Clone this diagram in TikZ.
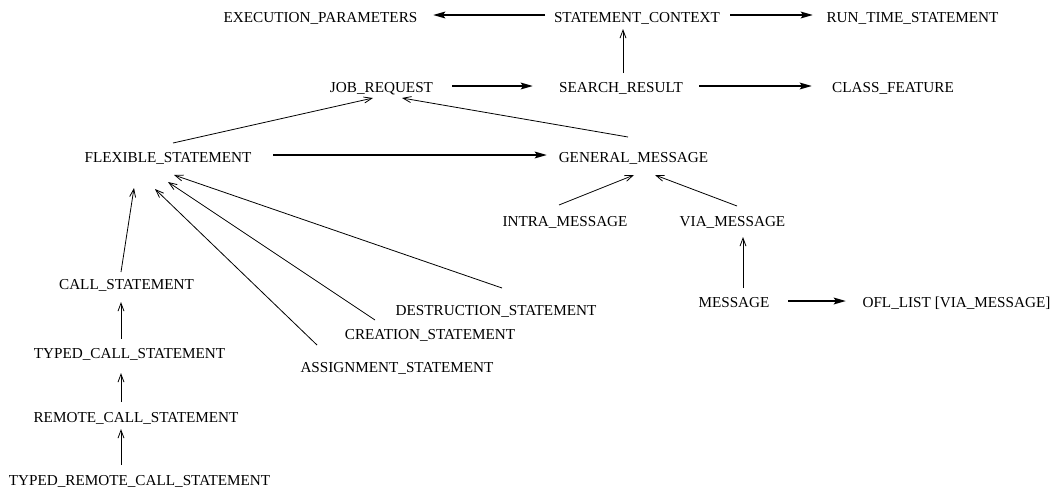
\documentclass[tikz,border=0pt]{standalone}
\usepackage{fontspec}
\setmainfont{Liberation Serif}
\usetikzlibrary{arrows.meta}
\begin{document}
\begin{tikzpicture}[x=1pt,y=-1pt,
  lbl/.style={inner sep=0pt,text height=10pt,text depth=0pt,font=\fontsize{15.2}{18}\selectfont},
  isa/.style={line width=0.8pt,-{Straight Barb[length=8pt,width=6pt,line width=0.8pt]}},
  rel/.style={line width=2.4pt,-{Stealth[length=12pt,width=6.5pt,inset=2pt]}}]
\useasboundingbox (0,0) rectangle (1055,488);
% class names
\node[lbl] (execp)   at (320.5,17)  {EXECUTION\_PARAMETERS};
\node[lbl] (stctx)   at (637,17)    {STATEMENT\_CONTEXT};
\node[lbl] (runtime) at (912.5,17)  {RUN\_TIME\_STATEMENT};
\node[lbl] (job)     at (381.5,87.5){JOB\_REQUEST};
\node[lbl] (search)  at (621,87.5)  {SEARCH\_RESULT};
\node[lbl] (classf)  at (893,87.5)  {CLASS\_FEATURE};
\node[lbl] (flex)    at (168,157.5) {FLEXIBLE\_STATEMENT};
\node[lbl] (genmsg)  at (633.5,157.5){GENERAL\_MESSAGE};
\node[lbl] (intra)   at (565,221)   {INTRA\_MESSAGE};
\node[lbl] (via)     at (732.5,221) {VIA\_MESSAGE};
\node[lbl] (call)    at (126.5,284) {CALL\_STATEMENT};
\node[lbl] (destr)   at (496,310)   {DESTRUCTION\_STATEMENT};
\node[lbl] (creat)   at (430,334)   {CREATION\_STATEMENT};
\node[lbl] (assign)  at (397,367)   {ASSIGNMENT\_STATEMENT};
\node[lbl] (tcall)   at (129.5,353) {TYPED\_CALL\_STATEMENT};
\node[lbl] (rcall)   at (136,417)   {REMOTE\_CALL\_STATEMENT};
\node[lbl] (trcall)  at (139.5,480.5){TYPED\_REMOTE\_CALL\_STATEMENT};
\node[lbl] (msg)     at (734,302.5) {MESSAGE};
\node[lbl] (ofl)     at (956.5,302.5){OFL\_LIST [VIA\_MESSAGE]};
% client (thick) relations
\draw[rel] ([shift={(-92,-2)}]stctx.center) -- ([shift={(112.5,-2)}]execp.center);
\draw[rel] ([shift={(93,-2)}]stctx.center) -- ([shift={(-99.5,-2)}]runtime.center);
\draw[rel] ([shift={(70.5,-1.5)}]job.center) -- ([shift={(-88,-1.5)}]search.center);
\draw[rel] ([shift={(78,-1.5)}]search.center) -- ([shift={(-81,-1.5)}]classf.center);
\draw[rel] ([shift={(105,-2.5)}]flex.center) -- ([shift={(-86.5,-2.5)}]genmsg.center);
\draw[rel] ([shift={(54,-1.5)}]msg.center) -- ([shift={(-110.5,-1.5)}]ofl.center);
% inheritance (thin) relations
\draw[isa] ([shift={(2,-14.5)}]search.center) -- ([shift={(-14,12)}]stctx.center);
\draw[isa] ([shift={(5,-14.5)}]flex.center) -- ([shift={(-8.5,10.5)}]job.center);
\draw[isa] ([shift={(-5.5,-20.5)}]genmsg.center) -- ([shift={(20.5,10.5)}]job.center);
\draw[isa] ([shift={(-6,-16)}]intra.center) -- ([shift={(0.5,17.5)}]genmsg.center);
\draw[isa] ([shift={(4.5,-15)}]via.center) -- ([shift={(21.5,17.5)}]genmsg.center);
\draw[isa] ([shift={(9,-14.5)}]msg.center) -- ([shift={(10.5,16)}]via.center);
\draw[isa] ([shift={(-5.5,-12)}]call.center) -- ([shift={(-34,30.5)}]flex.center);
\draw[isa] ([shift={(-80,-22)}]assign.center) -- ([shift={(-13,31.5)}]flex.center);
\draw[isa] ([shift={(-55,-14)}]creat.center) -- ([shift={(0,24.5)}]flex.center);
\draw[isa] ([shift={(6,-22)}]destr.center) -- ([shift={(6,17.5)}]flex.center);
\draw[isa] ([shift={(-8.5,-14)}]tcall.center) -- ([shift={(-5.5,18)}]call.center);
\draw[isa] ([shift={(-15,-15)}]rcall.center) -- ([shift={(-8.5,20)}]tcall.center);
\draw[isa] ([shift={(-18.5,-15.5)}]trcall.center) -- ([shift={(-15,12)}]rcall.center);
\end{tikzpicture}
\end{document}
